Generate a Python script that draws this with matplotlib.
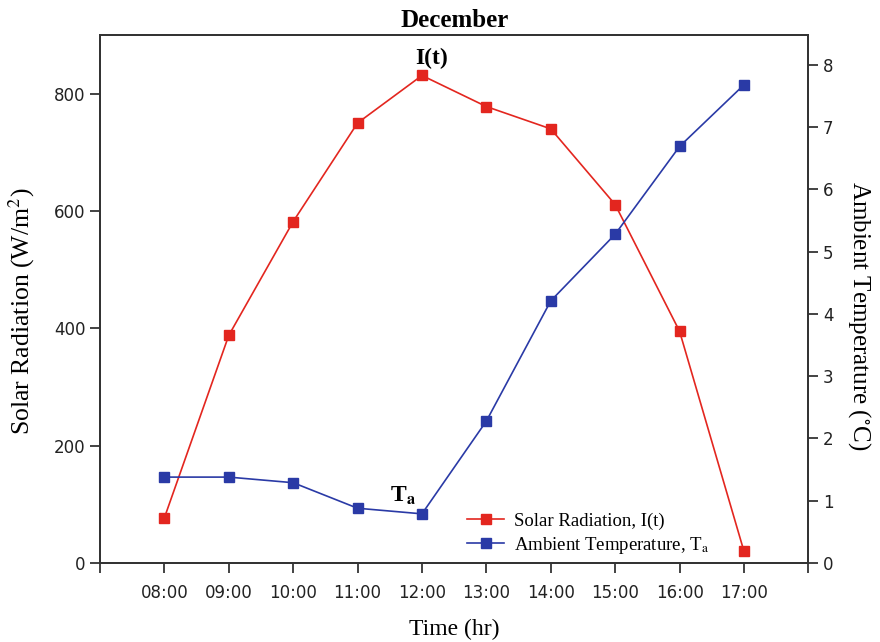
import matplotlib
matplotlib.use("Agg")
import matplotlib.pyplot as plt

hours = [8, 9, 10, 11, 12, 13, 14, 15, 16, 17]
hour_labels = ["08:00", "09:00", "10:00", "11:00", "12:00",
               "13:00", "14:00", "15:00", "16:00", "17:00"]
solar = [77, 388, 582, 750, 831, 778, 740, 611, 395, 20]
ambient = [1.38, 1.38, 1.29, 0.88, 0.79, 2.28, 4.21, 5.28, 6.69, 7.68]

RED = "#e3261f"
BLUE = "#2a3aa6"

plt.rcParams["mathtext.fontset"] = "stix"
serif = "Liberation Serif"
sans = "DejaVu Sans"

fig = plt.figure(figsize=(8.8, 6.42), dpi=100)
ax = fig.add_axes([0.1136, 0.123, 0.805, 0.8225])
ax2 = ax.twinx()

l1, = ax.plot(hours, solar, color=RED, lw=1.2, marker="s", ms=7.5,
              label="Solar Radiation, I(t)")
l2, = ax2.plot(hours, ambient, color=BLUE, lw=1.2, marker="s", ms=7.5,
               label="Ambient Temperature, T$_\\mathrm{a}$")

ax.set_xlim(7, 18)
ax.set_ylim(0, 900)
ax2.set_ylim(0, 8.48)

ax.set_xticks(range(7, 19))
ax.set_xticklabels([""] + hour_labels + [""], fontfamily=sans, fontsize=12)
ax.set_yticks([0, 200, 400, 600, 800])
ax2.set_yticks(range(0, 9))
for t in ax.get_yticklabels() + ax2.get_yticklabels():
    t.set_fontfamily(sans)
    t.set_fontsize(12)

for a in (ax, ax2):
    a.tick_params(direction="out", length=7, width=1.2, colors="#222222")
    for s in a.spines.values():
        s.set_linewidth(1.3)
        s.set_color("#333333")
ax.tick_params(axis="x", pad=8)

ax.set_xlabel("Time (hr)", fontfamily=serif, fontsize=17, labelpad=12)
ax.set_ylabel("Solar Radiation (W/m$^2$)", fontfamily=serif, fontsize=18.5, labelpad=12)
ax.yaxis.label.set_y(0.477)
ax2.set_ylabel("Ambient Temperature ($^{\\circ}$C)", fontfamily=serif, fontsize=18,
               rotation=270, labelpad=28)
ax2.yaxis.label.set_y(0.468)
ax.set_title("December", fontfamily=serif, fontsize=18, fontweight="bold", pad=6)

ax.text(12.15, 842, "I(t)", fontfamily=serif, fontsize=17, fontweight="bold",
        ha="center", va="bottom")
ax.text(11.7, 95, "T$_\\mathbf{a}$", fontfamily=serif, fontsize=17, fontweight="bold",
        ha="center", va="bottom")

leg = ax.legend(handles=[l1, l2], loc="lower left", bbox_to_anchor=(0.518, 0.014),
                frameon=False, prop={"family": serif, "size": 13.5},
                handlelength=2.0, handletextpad=0.5, labelspacing=0.25,
                borderpad=0, borderaxespad=0)

fig.savefig("out.png", dpi=100)
